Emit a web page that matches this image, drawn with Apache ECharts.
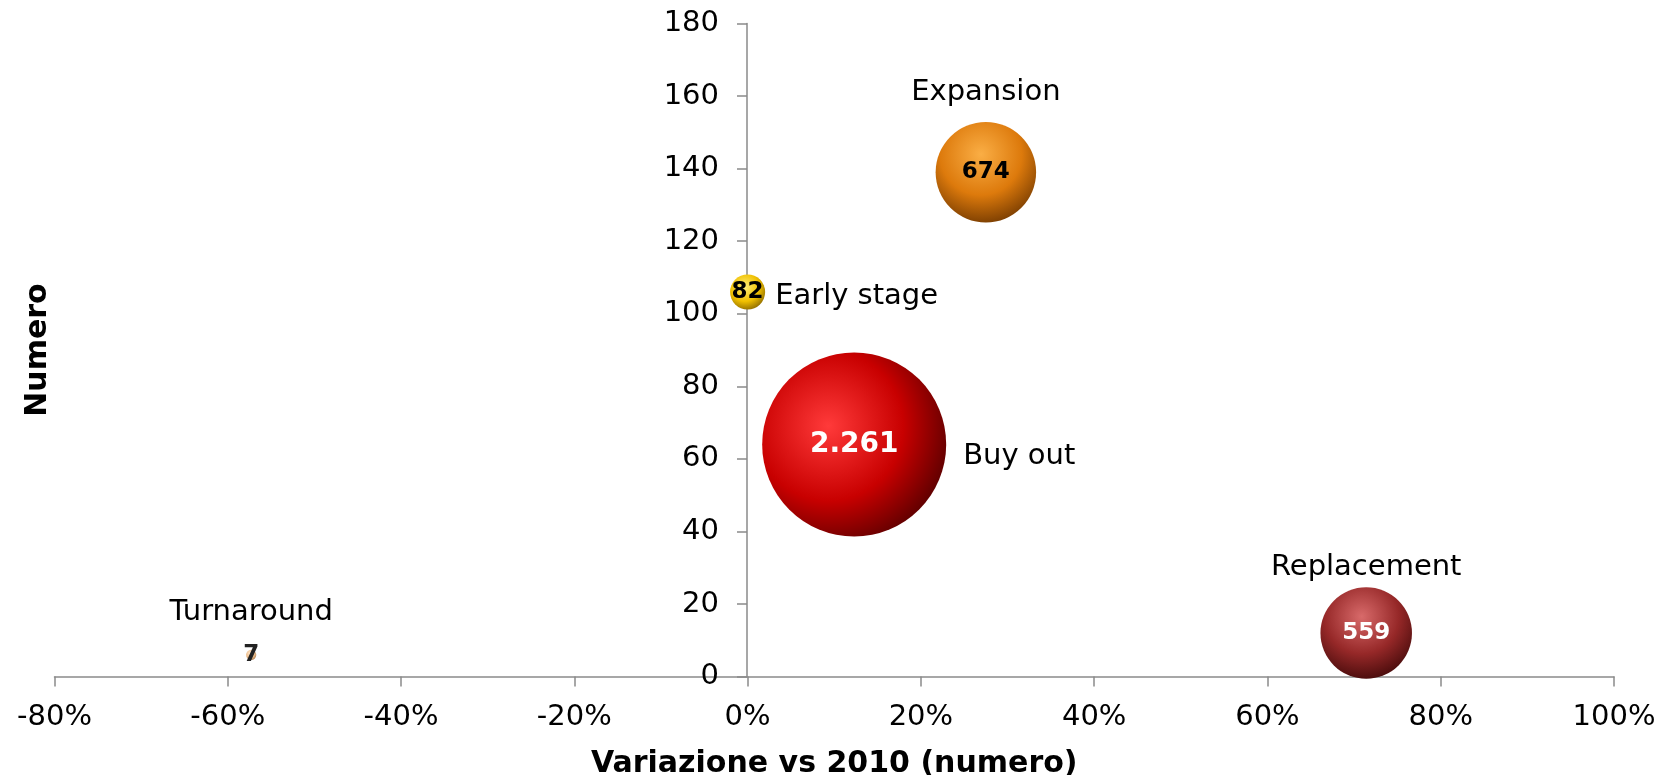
<!DOCTYPE html>
<html>
<head>
<meta charset="utf-8">
<script src="https://cdn.jsdelivr.net/npm/echarts@6/dist/echarts.min.js"></script>
<style>
html,body{margin:0;padding:0;background:#fff;}
#chart{width:1676px;height:775px;}
</style>
</head>
<body>
<div id="chart"></div>
<script>
// ---- data ----
const categories   = ['Early stage', 'Expansion', 'Replacement', 'Buy out', 'Turnaround'];
const variation    = [0, 27.5, 71.4, 12.3, -57.3];   // % vs 2010
const numero       = [106, 139, 12, 64, 6];           // number of deals
const amount       = [82, 674, 559, 2261, 7];         // bubble size
const amountLabels = ['82', '674', '559', '2.261', '7'];
const xTicks = { min: -80, max: 100, interval: 20 };
const yTicks = { min: 0, max: 180, interval: 20 };

// ---- styles ----
const sphere = [
  ['#FFF07A', '#F0C000', '#7A5A00'],
  ['#FAAE45', '#DD7A0C', '#6E3600'],
  ['#D86A6A', '#962828', '#3E0808'],
  ['#FF3A3A', '#C80000', '#480000'],
  ['#FFE6CC', '#EEC090', '#A07040']
];
const highlight  = [[0.42, 0.36], [0.45, 0.32], [0.45, 0.32], [0.36, 0.4], [0.42, 0.36]];
const valueColor = ['#000', '#000', '#fff', '#fff', '#222'];
const valueSize  = [23, 23, 23, 28, 23];
const namePos    = ['right', 'top', 'top', 'right', 'top'];
const nameDist   = [10, 15, 5, 17, 23];
const nameOffset = [[0, 4], [0, 0], [0, 0], [0, 12], [0, 0]];

const FONT = 'DejaVu Sans';
const GRID = { left: 54.5, right: 62, top: 23.5, bottom: 98.4 };
const sizeFn = v => 3.87 * Math.sqrt(v[2]);

const bubbleData = categories.map((c, i) => ({
  name: c,
  value: [variation[i], numero[i], amount[i]],
  itemStyle: {
    opacity: 1,
    color: {
      type: 'radial', x: highlight[i][0], y: highlight[i][1], r: 0.74,
      colorStops: [
        { offset: 0, color: sphere[i][0] },
        { offset: 0.55, color: sphere[i][1] },
        { offset: 1, color: sphere[i][2] }
      ]
    }
  },
  label: {
    formatter: amountLabels[i],
    color: valueColor[i],
    fontSize: valueSize[i]
  }
}));

const nameData = categories.map((c, i) => ({
  name: c,
  value: [variation[i], numero[i], amount[i]],
  label: {
    position: namePos[i],
    distance: nameDist[i],
    offset: nameOffset[i]
  }
}));

const chart = echarts.init(document.getElementById('chart'), null, { renderer: 'canvas' });
chart.setOption({
  animation: false,
  backgroundColor: '#fff',
  grid: { left: GRID.left, right: GRID.right, top: GRID.top, bottom: GRID.bottom, containLabel: false, outerBoundsMode: 'none' },
  xAxis: {
    type: 'value',
    min: xTicks.min, max: xTicks.max, interval: xTicks.interval,
    name: 'Variazione vs 2010 (numero)',
    nameLocation: 'middle',
    nameGap: 73,
    nameMoveOverlap: false,
    nameTextStyle: { fontFamily: FONT, fontWeight: 'bold', fontSize: 30, color: '#000' },
    axisLine: { show: true, onZero: false, lineStyle: { color: '#8a8a8a', width: 1.5 } },
    axisTick: { show: true, length: 10, lineStyle: { color: '#8a8a8a', width: 1.5 } },
    axisLabel: { formatter: '{value}%', fontFamily: FONT, fontSize: 29, color: '#000', margin: 26 },
    splitLine: { show: false }
  },
  yAxis: {
    type: 'value',
    position: 'left',
    offset: -692.5,
    min: yTicks.min, max: yTicks.max, interval: yTicks.interval,
    name: 'Numero',
    nameLocation: 'middle',
    nameGap: 694,
    nameMoveOverlap: false,
    nameTextStyle: { fontFamily: FONT, fontWeight: 'bold', fontSize: 30, color: '#000' },
    axisLine: { show: true, onZero: false, lineStyle: { color: '#8a8a8a', width: 1.5 } },
    axisTick: { show: true, length: 10, lineStyle: { color: '#8a8a8a', width: 1.5 } },
    axisLabel: { fontFamily: FONT, fontSize: 29, color: '#000', margin: 28 },
    splitLine: { show: false }
  },
  series: [
    {
      type: 'scatter',
      symbolSize: sizeFn,
      data: bubbleData,
      z: 3,
      itemStyle: { opacity: 1 },
      label: { show: true, position: 'inside', fontFamily: FONT, fontWeight: 'bold', textBorderWidth: 0, opacity: 1 },
      emphasis: { disabled: true }
    },
    {
      type: 'scatter',
      symbolSize: sizeFn,
      data: nameData,
      z: 4,
      silent: true,
      itemStyle: { color: 'rgba(0,0,0,0)', opacity: 1 },
      label: {
        show: true,
        formatter: '{b}',
        fontFamily: FONT,
        fontSize: 29,
        color: '#000',
        opacity: 1,
        textBorderWidth: 0
      },
      emphasis: { disabled: true }
    }
  ]
});
</script>
</body>
</html>
